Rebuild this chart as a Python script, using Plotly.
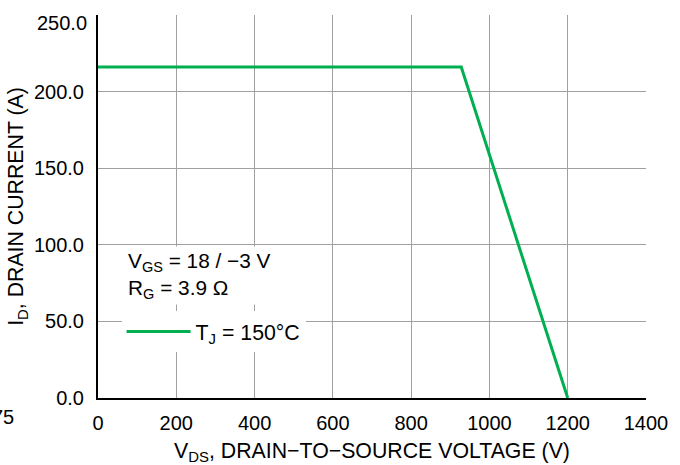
import plotly.graph_objects as go

# Data
vds_v = [0, 928, 1200]
id_a = [216, 216, 0]
x_ticks = [0, 200, 400, 600, 800, 1000, 1200, 1400]
y_ticks = [0, 50, 100, 150, 200, 250]
y_tick_labels = ["0.0", "50.0", "100.0", "150.0", "200.0", "250.0"]
series_name = "T<sub>J</sub> = 150°C"
cond_text = "V<sub>GS</sub> = 18 / −3 V<br>R<sub>G</sub> = 3.9 Ω"
x_title = "V<sub>DS</sub>, DRAIN−TO−SOURCE VOLTAGE (V)"
y_title = "I<sub>D</sub>, DRAIN CURRENT (A)"
edge_text = "75"

FONT = "Liberation Sans, Arial, Helvetica, sans-serif"
FS = 20
TFS = 21.3
PLOT_W = 548.0

# top tick label is drawn just below its gridline (as in the reference)
shown_tick_text = y_tick_labels[:-1] + [""]

fig = go.Figure()
fig.add_trace(go.Scatter(
    x=vds_v, y=id_a, mode="lines", name=series_name,
    line=dict(color="#00B050", width=3),
))

fig.update_layout(
    width=680, height=465,
    margin=dict(l=98, r=34, t=15, b=67),
    paper_bgcolor="white", plot_bgcolor="white",
    font=dict(family=FONT, size=FS, color="black"),
    showlegend=True,
    legend=dict(
        x=0.043, y=0.227, xanchor="left", yanchor="top",
        bgcolor="white", borderwidth=0,
        font=dict(family=FONT, size=TFS, color="black"),
        itemwidth=64,
    ),
    xaxis=dict(
        range=[0, 1400], tickvals=x_ticks,
        showgrid=True, gridcolor="#a0a0a0", gridwidth=1,
        showline=True, linecolor="black", linewidth=2,
        zeroline=False, ticks="", ticklabelstandoff=6,
        automargin=False,
        title=dict(text=x_title, standoff=10, font=dict(family=FONT, size=TFS)),
        tickfont=dict(family=FONT, size=FS),
    ),
    yaxis=dict(
        range=[0, 250], tickvals=y_ticks, ticktext=shown_tick_text,
        showgrid=True, gridcolor="#a0a0a0", gridwidth=1,
        showline=True, linecolor="black", linewidth=2,
        zeroline=False, ticks="", ticklabelstandoff=8,
        automargin=False,
        title=dict(text=y_title, standoff=4, font=dict(family=FONT, size=TFS)),
        tickfont=dict(family=FONT, size=FS),
    ),
    annotations=[
        dict(text=y_tick_labels[-1], xref="paper", yref="y",
             x=-9 / PLOT_W, y=y_ticks[-1], xanchor="right", yanchor="top",
             yshift=5, showarrow=False, font=dict(family=FONT, size=FS)),
        dict(text=cond_text, xref="paper", yref="paper",
             x=0.049, y=0.397, xanchor="left", yanchor="top",
             align="left", showarrow=False, bgcolor="white", borderpad=2,
             font=dict(family=FONT, size=20.8)),
        dict(text=edge_text, xref="paper", yref="paper",
             x=-82 / PLOT_W, y=-0.05, xanchor="right", yanchor="middle",
             showarrow=False, font=dict(family=FONT, size=FS)),
    ],
)

fig.write_html("out.html", config={"displayModeBar": False},
               post_script="document.body.style.margin='0';")
